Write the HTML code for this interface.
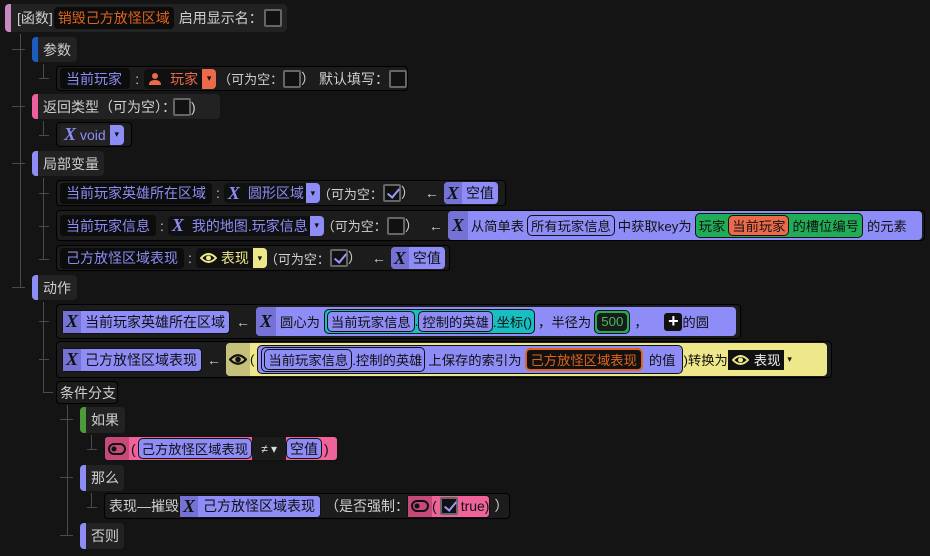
<!DOCTYPE html>
<html><head><meta charset="utf-8"><style>
*{box-sizing:border-box;margin:0;padding:0}
body{width:930px;height:556px;background:#141414;position:relative;overflow:hidden;font-family:"Liberation Sans","Noto Sans CJK SC",sans-serif;font-size:14px;color:#cfcfcf}
.a{position:absolute;display:flex;align-items:center;white-space:nowrap}
.box{background:#222;border-radius:4px}
.ob{background:#1c1c1c;border:1px solid #000;border-radius:4px}
.strip{position:absolute;left:0;top:0;bottom:0;width:6px;border-radius:4px 0 0 4px}
.ln{position:absolute;background:#4a4a4a}
.nm{background:#0c0c0c;color:#8d8cf6;border-radius:4px;padding:0 6px;height:21px;display:flex;align-items:center}
.cb{display:inline-block;width:18px;height:18px;border:2px solid #666;background:#111;border-radius:2px;position:relative;flex:none}
.cb.on::after{content:"";position:absolute;left:5px;top:0px;width:5px;height:10px;border:solid #9a98ff;border-width:0 2px 2px 0;transform:rotate(40deg)}
.pur{background:#8e8cf6;color:#111;border-radius:4px}
.xi{font-family:"Liberation Serif",serif;font-weight:bold;font-style:italic;font-size:18px;color:#111}
.pill{border:1.5px solid #111;border-radius:5px;padding:0 3px;height:21px;display:inline-flex;align-items:center}
.dd{display:inline-flex;align-items:center;justify-content:center;width:14px;height:100%;font-size:9px;color:#111}
.kw{font-size:13px;margin-left:-2px}
.sm{font-size:13.3px}
</style></head><body>

<div class="ln" style="left:20px;top:34px;width:1px;height:254px"></div>
<div class="ln" style="left:12px;top:49px;width:13px;height:1px"></div>
<div class="ln" style="left:12px;top:106px;width:13px;height:1px"></div>
<div class="ln" style="left:12px;top:163px;width:13px;height:1px"></div>
<div class="ln" style="left:12px;top:287px;width:13px;height:1px"></div>
<div class="ln" style="left:43px;top:64px;width:1px;height:14px"></div>
<div class="ln" style="left:39px;top:78px;width:10px;height:1px"></div>
<div class="ln" style="left:43px;top:121px;width:1px;height:14px"></div>
<div class="ln" style="left:39px;top:135px;width:10px;height:1px"></div>
<div class="ln" style="left:43px;top:178px;width:1px;height:82px"></div>
<div class="ln" style="left:39px;top:193px;width:10px;height:1px"></div>
<div class="ln" style="left:39px;top:226px;width:10px;height:1px"></div>
<div class="ln" style="left:39px;top:259px;width:10px;height:1px"></div>
<div class="ln" style="left:43px;top:302px;width:1px;height:90px"></div>
<div class="ln" style="left:39px;top:321px;width:10px;height:1px"></div>
<div class="ln" style="left:39px;top:359px;width:10px;height:1px"></div>
<div class="ln" style="left:43px;top:392px;width:10px;height:1px"></div>
<div class="ln" style="left:67px;top:405px;width:1px;height:131px"></div>
<div class="ln" style="left:60px;top:419px;width:13px;height:1px"></div>
<div class="ln" style="left:60px;top:477px;width:13px;height:1px"></div>
<div class="ln" style="left:60px;top:535px;width:13px;height:1px"></div>
<div class="ln" style="left:91px;top:435px;width:1px;height:14px"></div>
<div class="ln" style="left:87px;top:449px;width:10px;height:1px"></div>
<div class="ln" style="left:91px;top:493px;width:1px;height:14px"></div>
<div class="ln" style="left:87px;top:507px;width:10px;height:1px"></div>

<div class="a box" style="left:5px;top:4px;width:282px;height:28px;padding-left:12px">
 <div class="strip" style="background:#c78ac0;width:6px"></div>
 [函数]<span style="background:#0c0c0c;color:#e0641c;border-radius:4px;padding:0 4px;height:22px;display:flex;align-items:center;margin:0 5px 0 1px">销毁己方放怪区域</span>启用显示名：<span class="cb" style="margin-left:1px"></span>
</div>

<div class="a box" style="left:32px;top:37px;width:45px;height:25px;padding-left:11px"><div class="strip" style="background:#1d5cbf"></div>参数</div>
<div class="a ob" style="left:56px;top:66px;width:352px;height:25px;padding-left:3px">
 <span class="nm" style="width:73px">当前玩家</span><span style="margin:0 5px">:</span>
 <span style="background:#101010;border-radius:4px;height:20px;display:flex;align-items:center;color:#ec6a4a;padding-left:4px">
  <svg width="14" height="14" viewBox="0 0 14 14"><circle cx="7" cy="4" r="3" fill="#ec6a4a"/><path d="M1 13 Q1 8 7 8 Q13 8 13 13Z" fill="#ec6a4a"/></svg>
  <span style="margin:0 4px 0 8px">玩家</span><span class="dd" style="background:#ec6a4a;border-radius:0 4px 4px 0;height:20px">▾</span></span>
 <span class="kw" style="margin-left:2px">（可为空：</span><span class="cb"></span><span>） 默认填写：</span><span class="cb"></span>
</div>

<div class="a box" style="left:32px;top:94px;width:188px;height:25px;padding-left:11px"><div class="strip" style="background:#ee5fa0"></div>返回类型（可为空）：<span class="cb" style="margin-left:-3px"></span>)</div>
<div class="a ob" style="left:56px;top:122px;width:76px;height:25px;padding-left:3px">
 <span style="background:#222;border-radius:4px;height:20px;display:flex;align-items:center;color:#8e8cf6;padding-left:4px"><span class="xi" style="color:#8e8cf6">X</span><span style="margin:0 4px">void</span><span class="dd" style="background:#8e8cf6;border-radius:0 4px 4px 0;height:20px">▾</span></span>
</div>

<div class="a box" style="left:32px;top:151px;width:72px;height:25px;padding-left:11px"><div class="strip" style="background:#8e8cf6"></div>局部变量</div>

<div class="a ob" style="left:56px;top:180px;width:450px;height:26px;padding-left:3px">
 <span class="nm">当前玩家英雄所在区域</span><span style="margin:0 4px">:</span>
 <span style="background:#101010;border-radius:4px;height:20px;display:flex;align-items:center;color:#8e8cf6;padding-left:4px"><span class="xi" style="color:#8e8cf6">X</span><span style="margin:0 2px 0 8px">圆形区域</span><span class="dd" style="background:#8e8cf6;border-radius:0 4px 4px 0;height:20px">▾</span></span>
 <span class="kw">（可为空：</span><span class="cb on"></span><span>）</span><span style="margin:0 5px 0 10px">←</span>
 <span class="pur" style="height:22px;display:flex;align-items:center"><span class="xi" style="background:#7572d6;padding:0 3px;border-radius:4px 0 0 4px;height:22px;display:flex;align-items:center">X</span><span style="padding:0 4px">空值</span></span>
</div>

<div class="a ob" style="left:56px;top:210px;width:869px;height:31px;padding-left:3px;padding-right:2px">
 <span class="nm">当前玩家信息</span><span style="margin:0 4px">:</span>
 <span style="background:#101010;border-radius:4px;height:20px;display:flex;align-items:center;color:#8e8cf6;padding-left:4px"><span class="xi" style="color:#8e8cf6">X</span><span style="margin:0 2px 0 8px">我的地图.玩家信息</span><span class="dd" style="background:#8e8cf6;border-radius:0 4px 4px 0;height:20px">▾</span></span>
 <span class="kw">（可为空：</span><span class="cb"></span><span>）</span><span style="margin:0 5px 0 10px">←</span>
 <span class="pur sm" style="height:29px;display:flex;align-items:center;flex:1;overflow:hidden"><span class="xi" style="background:#7572d6;padding:0 4px;border-radius:4px 0 0 4px;height:29px;display:flex;align-items:center">X</span>
  <span style="margin:0 3px">从简单表</span><span class="pill">所有玩家信息</span><span style="margin:0 3px">中获取key为</span>
  <span style="background:#1fae57;border:1.5px solid #111;border-radius:5px;height:25px;display:inline-flex;align-items:center;padding:0 3px">玩家<span class="pill" style="background:#ec6a4a;margin:0 3px">当前玩家</span>的槽位编号</span><span style="margin-left:4px">的元素</span></span>
</div>

<div class="a ob" style="left:56px;top:245px;width:394px;height:26px;padding-left:3px">
 <span class="nm">己方放怪区域表现</span><span style="margin:0 4px">:</span>
 <span style="background:#101010;border-radius:4px;height:20px;display:flex;align-items:center;color:#eee88a;padding-left:4px">
  <svg width="17" height="12" viewBox="0 0 17 12"><path d="M1 6 Q8.5 -2 16 6 Q8.5 14 1 6Z" fill="none" stroke="#eee88a" stroke-width="2"/><circle cx="8.5" cy="6" r="2.5" fill="#eee88a"/></svg>
  <span style="margin:0 4px">表现</span><span class="dd" style="background:#eee88a;border-radius:0 4px 4px 0;height:20px">▾</span></span>
 <span class="kw">（可为空：</span><span class="cb on"></span><span>）</span><span style="margin:0 5px 0 10px">←</span>
 <span class="pur" style="height:22px;display:flex;align-items:center"><span class="xi" style="background:#7572d6;padding:0 3px;border-radius:4px 0 0 4px;height:22px;display:flex;align-items:center">X</span><span style="padding:0 4px">空值</span></span>
</div>

<div class="a box" style="left:32px;top:275px;width:45px;height:25px;padding-left:11px"><div class="strip" style="background:#8e8cf6"></div>动作</div>

<div class="a ob" style="left:56px;top:304px;width:685px;height:35px;padding-left:5px;padding-right:4px">
 <span class="pur" style="height:24px;display:flex;align-items:center;border:1px solid #111"><span class="xi" style="background:#7572d6;padding:0 3px;height:22px;display:flex;align-items:center">X</span><span style="padding:0 4px">当前玩家英雄所在区域</span></span>
 <span style="margin:0 6px;color:#ccc">←</span>
 <span class="pur sm" style="height:29px;display:flex;align-items:center;flex:1;overflow:hidden"><span class="xi" style="background:#7572d6;padding:0 4px;height:29px;display:flex;align-items:center;border-radius:4px 0 0 4px">X</span>
  <span style="margin:0 4px">圆心为</span>
  <span style="background:#17bfc1;border:1.5px solid #111;border-radius:5px;height:25px;display:inline-flex;align-items:center;padding:0 2px"><span class="pill" style="background:#8e8cf6">当前玩家信息</span>.<span class="pill" style="background:#8e8cf6">控制的英雄</span>.坐标()</span>
  <span style="margin:0 3px">，半径为</span>
  <span style="background:#1fae57;border:1.5px solid #111;border-radius:5px;height:24px;display:inline-flex;align-items:center;padding:0 2px"><span style="background:#1a1a1a;color:#3fbf5a;border-radius:4px;padding:0 4px;height:18px;display:flex;align-items:center">500</span></span>
  <span style="margin-left:4px;width:30px">，</span>
  <span style="background:#111;color:#fff;border-radius:3px;width:18px;height:18px;display:inline-flex;align-items:center;justify-content:center;font-size:18px;font-weight:bold">+</span>的圆</span>
</div>

<div class="a ob" style="left:56px;top:341px;width:776px;height:37px;padding-left:5px;padding-right:4px">
 <span class="pur" style="height:24px;display:flex;align-items:center;border:1px solid #111"><span class="xi" style="background:#7572d6;padding:0 3px;height:22px;display:flex;align-items:center">X</span><span style="padding:0 4px">己方放怪区域表现</span></span>
 <span style="margin:0 5px;color:#ccc">←</span>
 <span class="sm" style="background:#eee88a;color:#111;border-radius:4px;height:33px;flex:1;overflow:hidden;display:flex;align-items:center">
  <span style="background:#c5c07a;height:33px;display:flex;align-items:center;padding:0 3px;border-radius:4px 0 0 4px"><svg width="18" height="13" viewBox="0 0 18 13"><path d="M1 6.5 Q9 -2 17 6.5 Q9 15 1 6.5Z" fill="none" stroke="#111" stroke-width="2.2"/><circle cx="9" cy="6.5" r="2.8" fill="#111"/></svg></span>(
  <span style="background:#8e8cf6;border:1.5px solid #111;border-radius:5px;height:29px;display:inline-flex;align-items:center;padding:0 3px;margin-left:3px">
   <span class="pill" style="height:25px;padding:0 2px"><span class="pill">当前玩家信息</span>.控制的英雄</span><span style="margin:0 3px">上保存的索引为</span>
   <span style="background:#111;color:#e0641c;border:2px solid #e0641c;border-radius:5px;padding:0 4px;height:23px;display:inline-flex;align-items:center">己方放怪区域表现</span><span style="margin:0 4px 0 6px">的值</span></span>
  <span>)转换为</span><span style="background:#111;color:#eee;height:20px;display:inline-flex;align-items:center;padding:0 4px">
  <svg width="17" height="12" viewBox="0 0 17 12"><path d="M1 6 Q8.5 -2 16 6 Q8.5 14 1 6Z" fill="none" stroke="#eee88a" stroke-width="2"/><circle cx="8.5" cy="6" r="2.5" fill="#eee88a"/></svg><span style="margin-left:5px">表现</span></span><span style="font-size:9px;margin-left:3px">▾</span>
 </span>
</div>

<div class="a ob" style="left:56px;top:381px;width:62px;height:23px;padding-left:3px;background:#1c1c1c">条件分支</div>

<div class="a box" style="left:80px;top:407px;width:45px;height:26px;padding-left:11px"><div class="strip" style="background:#4e9a3a"></div>如果</div>
<div class="a" style="left:104px;top:436px;width:234px;height:25px;background:#f0639a;border-radius:4px;border:1px solid #111;overflow:hidden">
 <span style="background:#c54a7a;height:23px;display:flex;align-items:center;padding:0 3px"><svg width="18" height="12" viewBox="0 0 18 12"><rect x="1" y="1" width="16" height="10" rx="5" fill="none" stroke="#111" stroke-width="2"/><circle cx="6" cy="6" r="2.5" fill="#111"/></svg></span>
 <span style="color:#111;margin:0 2px">(</span>
 <span class="pill sm" style="background:#8e8cf6;color:#111;border-radius:5px">己方放怪区域表现</span>
 <span style="background:#1c1c1c;color:#ddd;height:23px;width:34px;display:inline-flex;align-items:center;justify-content:center;font-size:12px">≠ ▾</span>
 <span class="pill" style="background:#8e8cf6;color:#111">空值</span><span style="color:#111;margin-left:2px">)</span>
</div>

<div class="a box" style="left:80px;top:465px;width:44px;height:26px;padding-left:11px"><div class="strip" style="background:#8e8cf6"></div>那么</div>
<div class="a ob" style="left:104px;top:493px;width:406px;height:26px;padding-left:4px">
 表现—摧毁<span class="pur" style="height:23px;display:flex;align-items:center;border:1px solid #111"><span class="xi" style="background:#7572d6;padding:0 3px;height:21px;display:flex;align-items:center">X</span><span style="padding:0 5px">己方放怪区域表现</span></span>
 <span style="margin-left:4px">（是否强制：</span>
 <span style="background:#f0639a;color:#111;border-radius:4px;height:23px;display:flex;align-items:center;border:1px solid #111;margin-left:-2px"><span style="background:#c54a7a;height:21px;display:flex;align-items:center;padding:0 3px"><svg width="18" height="12" viewBox="0 0 18 12"><rect x="1" y="1" width="16" height="10" rx="5" fill="none" stroke="#111" stroke-width="2"/><circle cx="6" cy="6" r="2.5" fill="#111"/></svg></span>(<span class="cb on" style="margin:0 3px"></span>true)</span><span style="margin-left:4px">）</span>
</div>

<div class="a box" style="left:80px;top:523px;width:44px;height:26px;padding-left:11px"><div class="strip" style="background:#8e8cf6"></div>否则</div>
</body></html>
